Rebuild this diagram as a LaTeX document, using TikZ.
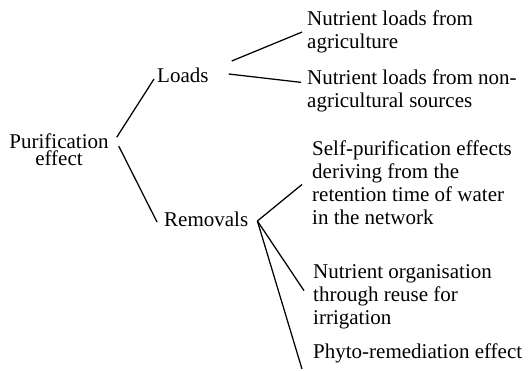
\documentclass[tikz,border=0pt]{standalone}
\usepackage{fontspec}
\setmainfont{Liberation Serif}
\begin{document}
\begin{tikzpicture}[
  x=1pt,y=1pt,
  every node/.style={inner sep=0pt,font=\fontsize{21}{23}\selectfont},
  leaf/.style={anchor=north west,align=left},
  branch/.style={anchor=base west},
  link/.style={line width=1.25pt}
]
  \useasboundingbox (0,0) rectangle (529,-370);

  \node[anchor=north,align=center,font=\fontsize{21}{17}\selectfont] (purif) at (59,-134) {Purification\\effect};
  \node[branch] (loads) at (157,-82)  {Loads};
  \node[branch] (remov) at (164,-226) {Removals};

  \node[leaf] (agri)    at (307,-10.7)  {Nutrient loads from\\agriculture};
  \node[leaf] (nonagri) at (307,-69.7)  {Nutrient loads from non-\\agricultural sources};
  \node[leaf] (selfpur) at (312,-140.7) {Self-purification effects\\deriving from the\\retention time of water\\in the network};
  \node[leaf] (reuse)   at (313,-264.2) {Nutrient organisation\\through reuse for\\irrigation};
  \node[leaf] (phyto)   at (313,-343.2) {Phyto-remediation effect};

  \draw[link] ([xshift=8pt,yshift=13pt]purif.east) -- ([xshift=-3pt,yshift=3pt]loads.base west);
  \draw[link] ([xshift=10pt,yshift=4pt]purif.east) -- ([xshift=-7pt,yshift=4pt]remov.base west);

  \draw[link] ([xshift=23pt,yshift=21pt]loads.base east) -- ([xshift=-5pt]agri.west);
  \draw[link] ([xshift=20pt,yshift=8pt]loads.base east) -- ([xshift=-6pt,yshift=8.7pt]nonagri.west);

  \draw[link] ([xshift=9pt,yshift=5pt]remov.base east) -- ([xshift=-10pt,yshift=-1.6pt]selfpur.west);
  \draw[link] ([xshift=9pt,yshift=5pt]remov.base east) -- ([xshift=-9pt,yshift=6pt]reuse.west);
  \draw[link] ([xshift=9pt,yshift=5pt]remov.base east) -- ([xshift=-11pt,yshift=-16pt]phyto.west);
\end{tikzpicture}
\end{document}
